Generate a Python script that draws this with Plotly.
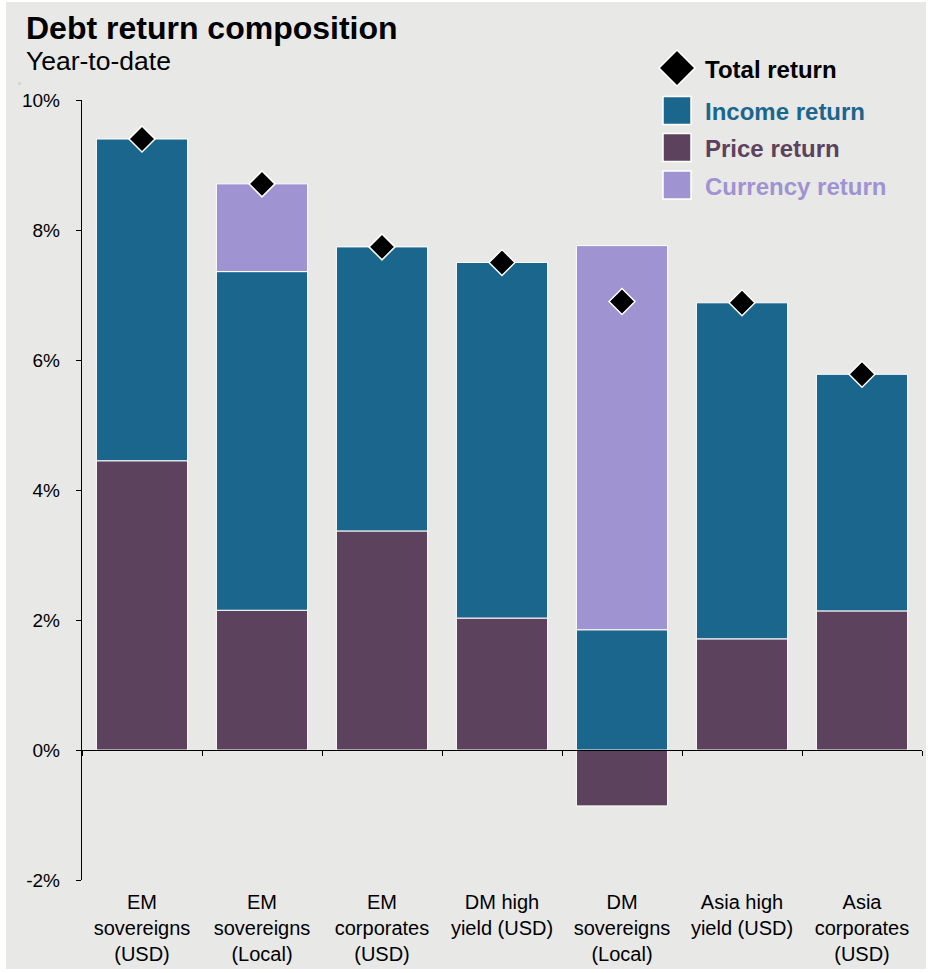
import plotly.graph_objects as go

# ---- data (percent, year-to-date) ----
categories = [
    "EM<br>sovereigns<br>(USD)",
    "EM<br>sovereigns<br>(Local)",
    "EM<br>corporates<br>(USD)",
    "DM high<br>yield (USD)",
    "DM<br>sovereigns<br>(Local)",
    "Asia high<br>yield (USD)",
    "Asia<br>corporates<br>(USD)",
]
price_return = [4.45, 2.15, 3.37, 2.03, -0.86, 1.71, 2.14]
income_return = [4.95, 5.21, 4.37, 5.47, 1.85, 5.17, 3.64]
currency_return = [None, 1.35, None, None, 5.91, None, None]
total_return = [9.40, 8.71, 7.74, 7.50, 6.90, 6.88, 5.78]

y_ticks = [-2, 0, 2, 4, 6, 8, 10]

# ---- styling ----
C_INCOME = "#1a668d"
C_PRICE = "#5c425d"
C_CURRENCY = "#a093d2"
BG = "#e8e8e7"
FONT = "Liberation Sans, Arial, sans-serif"

W, H = 929, 973
M_L, M_R, M_T, M_B = 82, 7, 100, 93
PW = W - M_L - M_R
PH = H - M_T - M_B


def px_x(px):
    return (px - M_L) / PW


def px_y(py):
    return (H - M_B - py) / PH


fig = go.Figure()

bar_line = dict(color="white", width=1)
fig.add_trace(go.Bar(x=categories, y=price_return, name="Price return",
                     marker=dict(color=C_PRICE, line=bar_line)))
fig.add_trace(go.Bar(x=categories, y=income_return, name="Income return",
                     marker=dict(color=C_INCOME, line=bar_line)))
fig.add_trace(go.Bar(x=categories, y=currency_return, name="Currency return",
                     marker=dict(color=C_CURRENCY, line=bar_line)))
fig.add_trace(go.Scatter(x=categories, y=total_return, name="Total return",
                         mode="markers", xaxis="x2",
                         marker=dict(symbol="diamond", size=20, color="black",
                                     line=dict(color="white", width=1.5))))

shapes = [
    # panel background
    dict(type="rect", xref="paper", yref="paper", layer="below",
         x0=px_x(6), x1=px_x(926), y0=px_y(969), y1=px_y(2),
         fillcolor=BG, line=dict(width=0)),
]

# legend
annotations = []
leg_items = [
    ("Income return", C_INCOME, 110.5),
    ("Price return", C_PRICE, 147.5),
    ("Currency return", C_CURRENCY, 185),
]
for label, col, cy in leg_items:
    shapes.append(dict(type="rect", xref="paper", yref="paper",
                       x0=px_x(663), x1=px_x(691),
                       y0=px_y(cy + 14), y1=px_y(cy - 14),
                       fillcolor=col, line=dict(color="white", width=1.5)))
    annotations.append(dict(text=f"<b>{label}</b>", xref="paper", yref="paper",
                            x=px_x(703), y=px_y(cy + 1), xanchor="left", yanchor="middle",
                            showarrow=False, font=dict(size=24, color=col, family=FONT)))

dcx, dcy, dr = 677, 68, 18
shapes.append(dict(type="path", xref="paper", yref="paper",
                   path=(f"M {px_x(dcx - dr)} {px_y(dcy)} L {px_x(dcx)} {px_y(dcy - dr)} "
                         f"L {px_x(dcx + dr)} {px_y(dcy)} L {px_x(dcx)} {px_y(dcy + dr)} Z"),
                   fillcolor="black", line=dict(color="white", width=1.5)))
annotations.append(dict(text="<b>Total return</b>", xref="paper", yref="paper",
                        x=px_x(703), y=px_y(70), xanchor="left", yanchor="middle",
                        showarrow=False, font=dict(size=24, color="black", family=FONT)))

# title and subtitle
annotations.append(dict(text="<b>Debt return composition</b>", xref="paper", yref="paper",
                        x=px_x(24), y=px_y(28), xanchor="left", yanchor="middle",
                        showarrow=False, font=dict(size=32, color="black", family=FONT)))
annotations.append(dict(text="Year-to-date", xref="paper", yref="paper",
                        x=px_x(24), y=px_y(61), xanchor="left", yanchor="middle",
                        showarrow=False, font=dict(size=26.5, color="black", family=FONT)))
annotations.append(dict(text="\u25ab", xref="paper", yref="paper",
                        x=px_x(19), y=px_y(83), xanchor="center", yanchor="middle",
                        showarrow=False, font=dict(size=8, color="#9a9a9a", family=FONT)))

fig.update_layout(
    width=W, height=H,
    margin=dict(l=M_L, r=M_R, t=M_T, b=M_B, pad=0),
    paper_bgcolor="white",
    plot_bgcolor="rgba(0,0,0,0)",
    barmode="relative",
    bargap=0.24,
    showlegend=False,
    font=dict(family=FONT, color="black"),
    shapes=shapes,
    annotations=annotations,
    xaxis=dict(
        type="category", categoryorder="array", categoryarray=categories,
        range=[-0.5, len(categories) - 0.5],
        showline=False, ticks="", showgrid=False, zeroline=False,
        tickfont=dict(size=20, color="black", family=FONT),
        ticklabelstandoff=8,
    ),
    xaxis2=dict(
        type="category", categoryorder="array", categoryarray=categories,
        range=[-0.5, len(categories) - 0.5],
        overlaying="x", anchor="free", position=(0 - y_ticks[0]) / (y_ticks[-1] - y_ticks[0]),
        showline=True, linecolor="black", linewidth=1.4,
        ticks="outside", tickson="boundaries", ticklen=5, tickcolor="black", tickwidth=1.4,
        showticklabels=False, showgrid=False, zeroline=False,
    ),
    yaxis=dict(
        range=[y_ticks[0], y_ticks[-1]],
        tickvals=y_ticks, ticktext=[f"{v}%" for v in y_ticks],
        showline=True, linecolor="black", linewidth=1.4,
        ticks="outside", ticklen=5, tickcolor="black", tickwidth=1.4,
        showgrid=False, zeroline=False,
        tickfont=dict(size=19, color="black", family=FONT),
        ticklabelstandoff=12,
    ),
)

fig.write_html("out.html")
